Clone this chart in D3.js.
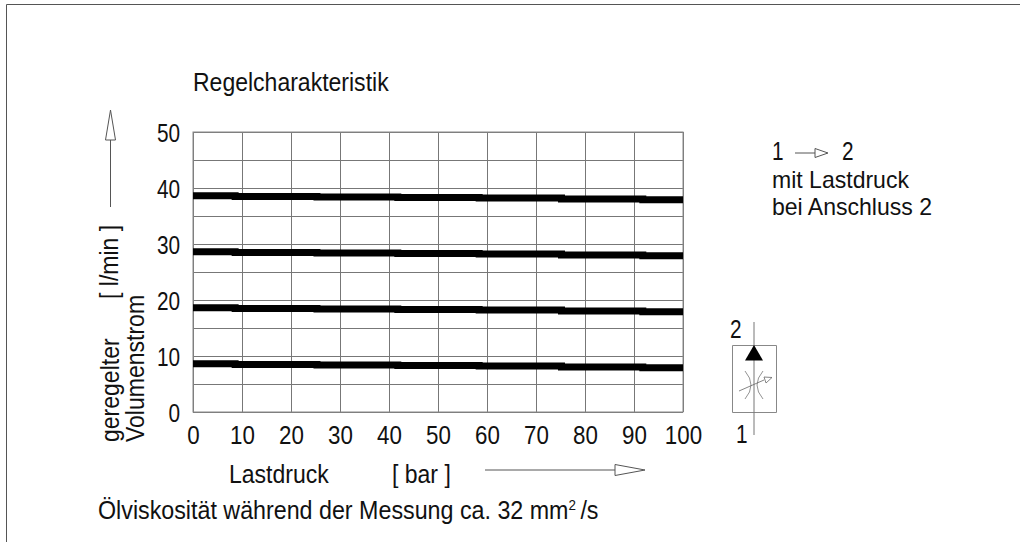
<!DOCTYPE html>
<html>
<head>
<meta charset="utf-8">
<script src="https://cdnjs.cloudflare.com/ajax/libs/d3/7.8.5/d3.min.js"></script>
<style>
  html, body { margin: 0; background: #fff; }
  svg { display: block; }
  text { font-family: "Liberation Sans", sans-serif; fill: #111; }
</style>
</head>
<body>
<script>
// Regelcharakteristik: four nearly flat curves, drawn as stairs like the plot
const stepPressure = [0, 8.6, 25.3, 41.8, 58.4, 75.2, 91.8, 100];
const curve40 = [38.6, 38.5, 38.4, 38.3, 38.2, 38.05, 37.9, 37.9];
const curve30 = [28.6, 28.5, 28.4, 28.3, 28.2, 28.05, 27.9, 27.9];
const curve20 = [18.6, 18.5, 18.4, 18.3, 18.2, 18.05, 17.9, 17.9];
const curve10 = [8.6, 8.5, 8.4, 8.3, 8.2, 8.05, 7.9, 7.9];
const xTicks = [0, 10, 20, 30, 40, 50, 60, 70, 80, 90, 100];
const yGrid = [0, 5, 10, 15, 20, 25, 30, 35, 40, 45, 50];
const yLabels = [0, 10, 20, 30, 40, 50];

const W = 1020, H = 542;
const x = d3.scaleLinear().domain([0, 100]).range([193, 683]);
const y = d3.scaleLinear().domain([0, 50]).range([412, 132]);

const svg = d3.select("body").append("svg").attr("width", W).attr("height", H);

// page frame
svg.append("path").attr("d", "M6.5 542V4.5H1020")
  .attr("fill", "none").attr("stroke", "#555").attr("stroke-width", 1);

// grid + tick labels through the axes; no narrow font here, so squeeze horizontally
const TICK_FS = 26, TICK_SX = 0.8;
const gx = svg.append("g").attr("transform", `translate(0,${y(0)})`)
  .call(d3.axisBottom(x).tickValues(xTicks).tickSize(y(0) - y(50)).tickSizeOuter(0).tickPadding(0));
gx.select(".domain").remove();
gx.selectAll("line").attr("y2", -(y(0) - y(50))).attr("stroke", "#777");
gx.selectAll("text").attr("y", 32).attr("dy", 0).attr("font-size", TICK_FS).attr("font-family", null)
  .attr("transform", "scale(0.86,1)");

const gy = svg.append("g").attr("transform", `translate(${x(0)},0)`)
  .call(d3.axisLeft(y).tickValues(yGrid).tickSize(0).tickPadding(0)
    .tickFormat(v => yLabels.includes(v) ? v : ""));
gy.select(".domain").remove();
gy.selectAll("line").attr("x2", x(100) - x(0)).attr("stroke", "#777");
gy.selectAll("text").attr("x", -13 / TICK_SX).attr("dy", 9).attr("font-size", TICK_FS).attr("font-family", null)
  .attr("transform", `scale(${TICK_SX},1)`);

// outer plot edge
svg.append("rect").attr("x", x(0)).attr("y", y(50))
  .attr("width", x(100) - x(0)).attr("height", y(0) - y(50))
  .attr("fill", "none").attr("stroke", "#888").attr("stroke-width", 1);

// curves
const stair = d3.line().curve(d3.curveStepAfter)
  .x((d, i) => x(stepPressure[i])).y(d => y(d));
[curve40, curve30, curve20, curve10].forEach(c => {
  svg.append("path").attr("d", stair(c))
    .attr("fill", "none").attr("stroke", "#000").attr("stroke-width", 7);
});

// texts
function label(t, px, py, size = 26, sx = 0.885, rot = 0) {
  return svg.append("text")
    .attr("transform", `translate(${px},${py}) rotate(${rot}) scale(${sx},1)`)
    .attr("font-size", size).text(t);
}
label("Regelcharakteristik", 193, 91);
label("Lastdruck", 229, 483);
label("[ bar ]", 392, 483);
const visc = label("Ölviskosität während der Messung ca. 32 mm", 98, 519, 26, 0.895);
visc.append("tspan").attr("dy", -9).attr("font-size", 15).text("2");
visc.append("tspan").attr("dy", 9).attr("dx", 5).text("/s");
label("1", 772, 160, TICK_FS, TICK_SX);
label("2", 842, 160, TICK_FS, TICK_SX);
label("mit Lastdruck", 772, 188, 24, 0.96);
label("bei Anschluss 2", 772, 215, 24, 0.96);
label("2", 730, 338, TICK_FS, TICK_SX);
label("1", 736, 443, TICK_FS, TICK_SX);
label("geregelter", 119, 442, 26, 0.885, -90);
label("Volumenstrom", 144, 442, 26, 0.885, -90);
label("[ l/min ]", 118, 299, 26, 0.885, -90);

// direction arrows
const thin = { fill: "none", stroke: "#555", "stroke-width": 1 };
function draw(d, style = thin) {
  const p = svg.append("path").attr("d", d);
  Object.entries(style).forEach(([k, v]) => p.attr(k, v));
  return p;
}
draw("M110.5 207V140M105.5 140H115.5L110.5 110Z");
draw("M485 470H615M615 464.5V475.5L645 470Z");
draw("M795 153H815M815 148.5V157.5L828 153Z");

// valve symbol
draw("M732.5 345.5H776.5V412.5H732.5Z", { fill: "none", stroke: "#888", "stroke-width": 1 });
draw("M754 322V435", { fill: "none", stroke: "#777", "stroke-width": 1 });
draw("M754 345L763 360.5H745Z", { fill: "#000", stroke: "none" });
draw("M745 371Q757 385 745 399M763 371Q751 385 763 399", { fill: "none", stroke: "#777", "stroke-width": 0.8 });
draw("M739 391L764 380M764 377L772 377.5L766 383Z", { fill: "none", stroke: "#666", "stroke-width": 0.8 });
</script>
</body>
</html>
